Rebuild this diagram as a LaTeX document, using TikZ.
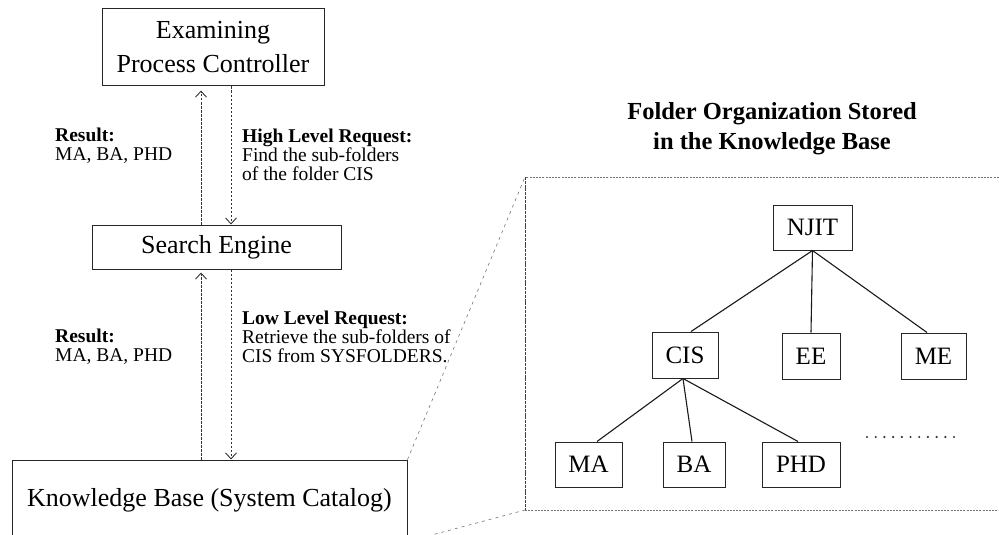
\documentclass[tikz,border=0pt]{standalone}
\usepackage{fontspec}
\setmainfont{Liberation Serif}
\usetikzlibrary{arrows.meta}
\begin{document}
\begin{tikzpicture}[x=1pt,y=-1pt,
  block/.style={draw=black!85,line width=1pt,inner sep=0pt,align=center,
    font=\fontsize{26}{34}\selectfont},
  folder/.style={draw=black!85,line width=1pt,inner sep=0pt,
    font=\fontsize{25}{30}\selectfont},
  msg/.style={draw=black!80,line width=0.8pt,dash pattern=on 2.5pt off 1.5pt,
    -{Straight Barb[length=6pt,width=11pt,line width=0.9pt]}},
  lbl/.style={inner sep=0pt,anchor=west,align=left,
    font=\fontsize{19.5}{19}\selectfont},
  treeedge/.style={line width=1.1pt,black!90},
  frame/.style={line width=0.7pt,black!55,dash pattern=on 2pt off 1.2pt},
  frameside/.style={line width=0.9pt,black!75,dash pattern=on 3pt off 0.8pt},
  leader/.style={line width=0.6pt,black!55,dash pattern=on 3pt off 4pt},
  dotrow/.style={line width=2.4pt,black!80,line cap=round,dash pattern=on 0pt off 8.7pt},
]
\useasboundingbox (0,0) rectangle (999,535);
\clip (0,0) rectangle (999,535);

% ---- processing chain ----
\node[block,minimum width=222pt,minimum height=77pt] (epc) at (213,47.5)
  {Examining\\Process Controller};
\node[block,minimum width=249pt,minimum height=44pt] (se) at (216.5,247)
  {Search Engine};
\node[block,minimum width=395pt,minimum height=81pt] (kb) at (209.5,500.5)
  {Knowledge Base (System Catalog)};

\coordinate (xl) at (201,0);
\coordinate (xr) at (231,0);

\draw[msg,shorten >=4pt] (xl |- se.north) -- (xl |- epc.south);
\draw[msg] (xr |- epc.south) -- (xr |- se.north);
\draw[msg,shorten >=3pt] (xl |- kb.north) -- (xl |- se.south);
\draw[msg] (xr |- se.south) -- (xr |- kb.north);

\node[lbl] (res1) at (55,145.5) {\textbf{Result:}\\MA, BA, PHD};
\node[lbl] (hreq) at (242,155) {\textbf{High Level Request:}\\Find the sub-folders\\of the folder CIS};
\node[lbl] (res2) at (55,346.5) {\textbf{Result:}\\MA, BA, PHD};
\node[lbl] (lreq) at (242,337) {\textbf{Low Level Request:}\\Retrieve the sub-folders of\\CIS from SYSFOLDERS.};

% ---- folder organization panel ----
\node[align=center,font=\bfseries\fontsize{24.5}{30}\selectfont] (title) at (772,129)
  {Folder Organization Stored\\in the Knowledge Base};

\coordinate (ptl) at (525,177);
\coordinate (pbl) at (525,510);
\coordinate (ptr) at (1002,177);
\coordinate (pbr) at (1002,510);
\draw[frame] (ptr) -- (ptl);
\draw[frame] (pbl) -- (pbr);
\draw[frameside] (ptl) -- (pbl);

\draw[leader] (kb.north east) -- (ptl);
\draw[leader] (kb.south east) -- (pbl);

\node[folder,minimum width=79pt,minimum height=45pt] (njit) at (812.5,227.5) {NJIT};
\node[folder,minimum width=66pt,minimum height=46pt] (cis) at (685,355) {CIS};
\node[folder,minimum width=58pt,minimum height=46pt] (ee) at (811,356) {EE};
\node[folder,minimum width=65pt,minimum height=46pt] (me) at (933.5,356) {ME};
\node[folder,minimum width=67pt,minimum height=45pt] (ma) at (588.5,464.5) {MA};
\node[folder,minimum width=62pt,minimum height=45pt] (ba) at (694,464.5) {BA};
\node[folder,minimum width=78pt,minimum height=45pt] (phd) at (801,464.5) {PHD};

\draw[treeedge] (njit.south) -- ([xshift=6pt]cis.north);
\draw[treeedge] (njit.south) -- (ee.north);
\draw[treeedge] (njit.south) -- ([xshift=-6.5pt]me.north);
\draw[treeedge] ([xshift=-2pt]cis.south) -- ([xshift=8.5pt]ma.north);
\draw[treeedge] ([xshift=-2pt]cis.south) -- ([xshift=-2pt]ba.north);
\draw[treeedge] ([xshift=-2pt]cis.south) -- ([xshift=-3pt]phd.north);

\coordinate (dl) at (867,437);
\coordinate (dr) at (956,437);
\draw[dotrow] (dl) -- (dr);
\end{tikzpicture}
\end{document}
